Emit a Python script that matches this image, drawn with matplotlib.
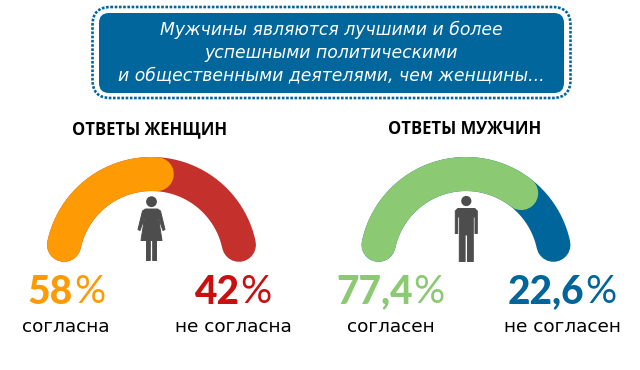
import matplotlib
matplotlib.use('Agg')
import matplotlib.pyplot as plt
import numpy as np
from matplotlib.patches import FancyBboxPatch, Circle, Polygon

# values
question = ['Мужчины являются лучшими и более',
            'успешными политическими',
            'и общественными деятелями, чем женщины...']
titles = ['ОТВЕТЫ ЖЕНЩИН', 'ОТВЕТЫ МУЖЧИН']
agree_values = [58, 77.4]
disagree_values = [42, 22.6]
agree_num = ['58', '77,4']
disagree_num = ['42', '22,6']
agree_labels = ['согласна', 'согласен']
disagree_labels = ['не согласна', 'не согласен']

agree_colors = ['#fe9a04', '#8bc972']
disagree_colors = ['#c4302b', '#00659a']
num_colors_dis = ['#c90f10', '#00659a']
dark = '#4d4d4d'
blue = '#00669b'

FONT = 'DejaVu Sans'

fig = plt.figure(figsize=(6.4, 3.7), dpi=100)
ax = fig.add_axes([0, 0, 1, 1])
ax.set_xlim(0, 640)
ax.set_ylim(370, 0)
ax.axis('off')

# header box
ax.add_patch(FancyBboxPatch((105, 19), 453, 68, boxstyle='round,pad=6,rounding_size=10',
                            fc=blue, ec='none'))
ax.add_patch(FancyBboxPatch((105, 19.5), 453, 66, boxstyle='round,pad=12.5,rounding_size=18',
                            fc='none', ec=blue, lw=1.9, ls=(0, (1, 0.6))))
for line, y in zip(question, [30, 53, 75]):
    ax.text(331, y, line, color='white', fontsize=12.4, style='italic', family=FONT,
            ha='center', va='center')


def arc(cx, a0, a1, color):
    r = 89.4
    cy = 263.4
    t = np.radians(np.linspace(a0, a1, 200))
    ax.plot(cx + r * np.cos(t), cy - r * np.sin(t), color=color, lw=24.5,
            solid_capstyle='round')


def percent(x, y, num, color):
    # bold number and thin % sign, centred together on x
    t1 = ax.text(0, y, num, color=color, fontsize=28, fontweight='black', family='Lato',
                 ha='left', va='center')
    t2 = ax.text(0, y, '%', color=color, fontsize=28, family='Lato', fontweight='normal',
                 ha='left', va='center')
    r = fig.canvas.get_renderer()
    w1 = t1.get_window_extent(r).width
    w2 = t2.get_window_extent(r).width
    t1.set_x(x - (w1 + w2) / 2)
    t2.set_x(x - (w1 + w2) / 2 + w1 + 1)


def woman(cx):
    ax.add_patch(Circle((cx, 201.7), 5.4, fc=dark, ec='none'))
    ax.add_patch(Polygon([(cx - 6, 209), (cx + 6, 209), (cx + 9, 211), (cx + 13.5, 229.5),
                          (cx + 11.5, 230.5), (cx + 7, 218), (cx + 10.5, 240.5), (cx + 5, 240.5),
                          (cx + 5, 260.5), (cx + 1.2, 260.5), (cx + 1.2, 240.5), (cx - 1.2, 240.5),
                          (cx - 1.2, 260.5), (cx - 5, 260.5), (cx - 5, 240.5), (cx - 10.5, 240.5),
                          (cx - 7, 218), (cx - 11.5, 230.5), (cx - 13.5, 229.5), (cx - 9, 211)],
                         fc=dark, ec=dark, lw=0.7, joinstyle='round'))


def man(cx):
    ax.add_patch(Circle((cx, 201), 5.1, fc=dark, ec='none'))
    ax.add_patch(Polygon([(cx - 8.5, 208.5), (cx + 8.5, 208.5), (cx + 11, 211), (cx + 11, 233.5),
                          (cx + 8.7, 233.5), (cx + 8.7, 217), (cx + 7, 217), (cx + 7, 261.5),
                          (cx + 1.2, 261.5), (cx + 1.2, 235), (cx - 1.2, 235), (cx - 1.2, 261.5),
                          (cx - 7, 261.5), (cx - 7, 217), (cx - 8.7, 217), (cx - 8.7, 233.5),
                          (cx - 11, 233.5), (cx - 11, 211)],
                         fc=dark, ec=dark, lw=0.7, joinstyle='round'))


centers = [151.5, 466]
title_x = [150, 465]
left_x = [66, 390]
right_x = [232, 562]
lab_left_x = [66, 391]
lab_right_x = [233, 562]
for i in range(2):
    cx = centers[i]
    arc(cx, 168, 12, disagree_colors[i])
    # end of the first part follows its share on the gauge
    arc(cx, 168, 190.4 - 1.79 * agree_values[i], agree_colors[i])
    ax.text(title_x[i], 129, titles[i], fontsize=12, fontweight='bold', family='Open Sans',
            color='black', ha='center', va='center')
    percent(left_x[i], 292, agree_num[i], agree_colors[i])
    percent(right_x[i], 292, disagree_num[i], num_colors_dis[i])
    ax.text(lab_left_x[i], 327, agree_labels[i], fontsize=13.3, family=FONT, color='black',
            ha='center', va='center')
    ax.text(lab_right_x[i], 327, disagree_labels[i], fontsize=13.3, family=FONT, color='black',
            ha='center', va='center')

woman(centers[0])
man(centers[1] + 0.3)

fig.savefig('out.png', dpi=100)
